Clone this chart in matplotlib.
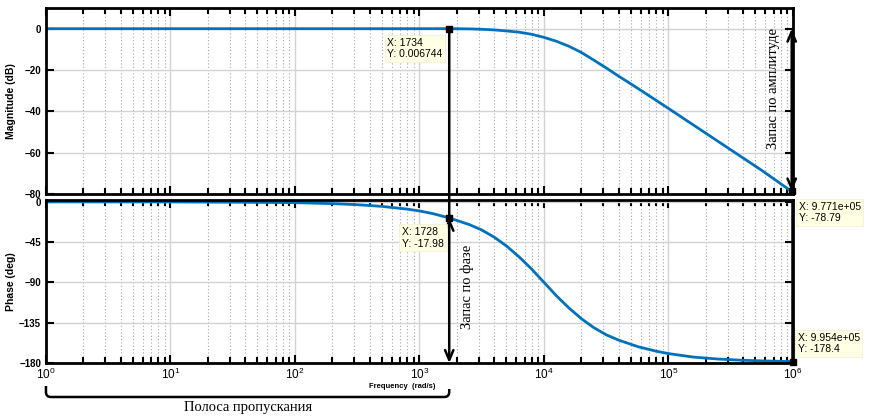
import matplotlib
matplotlib.use('Agg')
import matplotlib.pyplot as plt
from matplotlib.patches import PathPatch, ConnectionPatch
from matplotlib.path import Path
from matplotlib.ticker import LogLocator, NullFormatter

plt.rcParams['font.family'] = ['Liberation Sans', 'DejaVu Sans']
plt.rcParams['mathtext.fontset'] = 'custom'
plt.rcParams['mathtext.rm'] = 'Liberation Sans:bold'
plt.rcParams['mathtext.bf'] = 'Liberation Sans:bold'
plt.rcParams['mathtext.default'] = 'bf'

# magnitude curve (rad/s, dB)
freq_mag = [1, 10, 100, 1000, 1734, 2512, 3162, 3981, 5012, 6310, 7943,
            10000, 12590, 15850, 19950, 25120, 31620, 39810, 50120, 63100,
            100000, 177800, 316200, 562300, 977100]
mag_db = [0, 0, 0, 0, 0.007, -0.1, -0.3, -0.6, -1.1, -1.7, -2.7,
          -4.2, -6.1, -8.5, -11.5, -15.2, -19.0, -23.0, -26.8, -30.7,
          -38.6, -48.6, -58.6, -68.6, -78.79]

# phase curve (rad/s, deg)
freq_ph = [1, 10, 31.6, 100, 200, 316, 501, 794, 1000, 1259, 1728, 2512,
           3162, 3981, 5012, 6310, 7943, 10000, 12590, 15850, 19950, 25120,
           31620, 39810, 57540, 79430, 100000, 158500, 251200, 398100,
           631000, 995400]
phase_deg = [-0.1, -0.2, -0.5, -1.0, -2.1, -3.3, -5.2, -8.2, -10.3, -13.0,
             -17.98, -25.5, -31.5, -39.5, -49.5, -61.5, -75.0, -90.0, -105.0,
             -118.5, -130.5, -140.5, -148.5, -154.5, -162.0, -166.8, -169.5,
             -173.4, -175.6, -177.0, -177.8, -178.4]

tip_mag = (1734, 0.006744)
tip_ph = (1728, -17.98)
end_mag = (9.771e5, -78.79)
end_ph = (9.954e5, -178.4)

mag_ticks = [0, -20, -40, -60, -80]
ph_ticks = [0, -45, -90, -135, -180]

blue = '#0072BD'
tipbox = dict(boxstyle='square,pad=0.25', fc='#FFFFE3', ec='#EEEED8', lw=0.5)

fig = plt.figure(figsize=(8.69, 4.17), dpi=100)
ax1 = fig.add_axes([0.0529, 0.5348, 0.8596, 0.446])
ax2 = fig.add_axes([0.0529, 0.1295, 0.8596, 0.391])

for ax in (ax1, ax2):
    ax.set_xscale('log')
    ax.set_xlim(1, 1e6)
    ax.xaxis.set_major_locator(LogLocator(base=10, numticks=10))
    ax.xaxis.set_minor_locator(LogLocator(base=10, subs=range(2, 10), numticks=100))
    ax.xaxis.set_minor_formatter(NullFormatter())
    ax.grid(True, which='major', color='#d2d2d2', lw=1.0, ls='-')
    ax.grid(True, which='minor', axis='x', color='#a8a8a8', lw=0.8, ls=(0, (1, 2)))
    ax.tick_params(which='both', direction='in', top=True, right=True,
                   width=1.5, color='black', labelsize=7)
    ax.tick_params(which='major', length=6)
    ax.tick_params(which='minor', length=4)
    for s in ax.spines.values():
        s.set_linewidth(2)
    ax.set_axisbelow(True)

ax1.plot(freq_mag, mag_db, color=blue, lw=2)
ax1.set_ylim(-80, 10)
ax1.set_yticks(mag_ticks)
ax1.tick_params(labelbottom=False)
ax1.set_ylabel('Magnitude (dB)', fontsize=7.5, fontweight='bold', labelpad=6)

ax2.plot(freq_ph, phase_deg, color=blue, lw=2)
ax2.set_ylim(-180, 2)
ax2.set_yticks(ph_ticks)
ax2.tick_params(axis='x', labelsize=8.5, pad=3)
ax2.set_ylabel('Phase (deg)', fontsize=7.5, fontweight='bold', labelpad=2)
ax2.set_xlabel('Frequency  (rad/s)', fontsize=5.5, fontweight='bold')
ax2.xaxis.set_label_coords(0.4766, -0.122)

for ax in (ax1, ax2):
    for lab in ax.get_yticklabels():
        lab.set_fontweight('bold')

# data tips
ax1.plot(*tip_mag, 's', color='k', ms=4, zorder=5)
ax2.plot(*tip_ph, 's', color='k', ms=4, zorder=5)
ax1.plot(*end_mag, 's', color='k', ms=4, zorder=5, clip_on=False)
ax2.plot(*end_ph, 's', color='k', ms=4, zorder=5, clip_on=False)

ax1.annotate('X: %d\nY: %.6f' % tip_mag, xy=tip_mag, xytext=(-62, -20),
             textcoords='offset pixels', ha='left', va='center', fontsize=7.5,
             bbox=tipbox, zorder=6)
ax2.annotate('X: %d\nY: %.2f' % tip_ph, xy=tip_ph, xytext=(-47, -20),
             textcoords='offset pixels', ha='left', va='center', fontsize=7.5,
             bbox=tipbox, zorder=6)
ax1.annotate('X: 9.771e+05\nY: %.2f' % end_mag[1], xy=end_mag, xytext=(7, -21),
             textcoords='offset pixels', ha='left', va='center', fontsize=7.5,
             bbox=tipbox, annotation_clip=False)
ax2.annotate('X: 9.954e+05\nY: %.1f' % end_ph[1], xy=end_ph, xytext=(5, 18),
             textcoords='offset pixels', ha='left', va='center', fontsize=7.5,
             bbox=tipbox, annotation_clip=False)

# vertical line through the bandwidth point and phase-margin arrow
con = ConnectionPatch(xyA=(tip_mag[0], tip_mag[1]), coordsA=ax1.transData,
                      xyB=(tip_mag[0], tip_ph[1]), coordsB=ax2.transData,
                      color='k', lw=1.8, zorder=4)
fig.add_artist(con)
ax2.annotate('', xy=(tip_mag[0], -180), xytext=(tip_mag[0], tip_ph[1]),
             arrowprops=dict(arrowstyle='<->,head_length=0.7,head_width=0.3',
                             lw=1.8, color='k', shrinkA=0, shrinkB=0),
             annotation_clip=False)
ax2.annotate('Запас по фазе', xy=(tip_mag[0], -95), xytext=(18, 0),
             textcoords='offset pixels', rotation=90, ha='center', va='center',
             fontsize=10.5, family='Liberation Serif')

# gain-margin arrow at the right edge
ax1.annotate('', xy=(end_mag[0], end_mag[1]), xytext=(end_mag[0], 0),
             arrowprops=dict(arrowstyle='<->,head_length=0.7,head_width=0.3',
                             lw=1.8, color='k', shrinkA=0, shrinkB=0),
             annotation_clip=False)
ax1.annotate('Запас по амплитуде', xy=(end_mag[0], -29), xytext=(-18, 0),
             textcoords='offset pixels', rotation=90, ha='center', va='center',
             fontsize=10.5, family='Liberation Serif')
ax2.axvline(end_mag[0], color='k', lw=1.8)

# brace under the pass band
W, H = 869.0, 417.0
xL = ax2.transData.transform((1, -180))[0]
xR = ax2.transData.transform((tip_mag[0], -180))[0]
yt1, yt2, yb = H - 386, H - 389, H - 397
verts = [(xL, yt1), (xL, yb + 5), (xL, yb), (xL + 5, yb),
         (xR - 5, yb), (xR, yb), (xR, yb + 5), (xR, yt2)]
codes = [Path.MOVETO, Path.LINETO, Path.CURVE3, Path.CURVE3,
         Path.LINETO, Path.CURVE3, Path.CURVE3, Path.LINETO]
verts = [(x / W, y / H) for x, y in verts]
brace = PathPatch(Path(verts, codes), transform=fig.transFigure,
                  fill=False, lw=1.8, ec='k')
fig.add_artist(brace)
xm = (xL + xR) / 2 / W
fig.text(xm, 1 - 408 / H, 'Полоса пропускания', ha='center', va='center',
         fontsize=10.5, family='Liberation Serif')

fig.savefig('out.png', dpi=100)
